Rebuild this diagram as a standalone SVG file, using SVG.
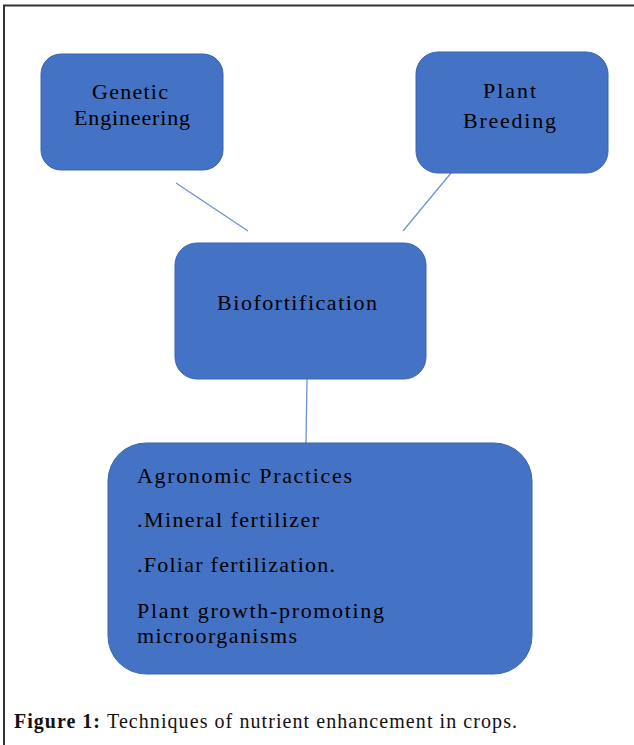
<svg xmlns="http://www.w3.org/2000/svg" width="634" height="745" viewBox="0 0 634 745">
<style>
.box{fill:#4472C4;stroke:#3A64AE;stroke-width:1}
.t{font-family:'Liberation Serif','DejaVu Serif',serif;font-size:22px;fill:#000}
.c{font-family:'Liberation Serif','DejaVu Serif',serif;font-size:20px;fill:#111}
.conn line{stroke:#6E93D8;stroke-width:1.3}
</style>
<rect width="634" height="745" fill="#fff"/>
<path d="M4 745 V5.5 H634" fill="none" stroke="#333" stroke-width="2"/>
<g class="conn">
<line x1="176" y1="183" x2="248" y2="231"/>
<line x1="451" y1="173" x2="403" y2="231"/>
<line x1="307" y1="379" x2="306" y2="443"/>
</g>
<g id="genetic">
<rect class="box" x="41" y="54" width="182" height="116" rx="20"/>
<text class="t" x="92" y="99" textLength="76" lengthAdjust="spacing">Genetic</text>
<text class="t" x="74" y="125" textLength="116" lengthAdjust="spacing">Engineering</text>
</g>
<g id="plant">
<rect class="box" x="416" y="52" width="192" height="121" rx="22"/>
<text class="t" x="483" y="98" textLength="53" lengthAdjust="spacing">Plant</text>
<text class="t" x="463" y="128" textLength="93" lengthAdjust="spacing">Breeding</text>
</g>
<g id="bio">
<rect class="box" x="175" y="243" width="251" height="136" rx="22"/>
<text class="t" x="217" y="310" textLength="160" lengthAdjust="spacing">Biofortification</text>
</g>
<g id="agro">
<rect class="box" x="108" y="443" width="424" height="231" rx="38"/>
<text class="t" x="137" y="483" textLength="215" lengthAdjust="spacing">Agronomic Practices</text>
<text class="t" x="137" y="527" textLength="182" lengthAdjust="spacing">.Mineral fertilizer</text>
<text class="t" x="137" y="572" textLength="198" lengthAdjust="spacing">.Foliar fertilization.</text>
<text class="t" x="137" y="618" textLength="247" lengthAdjust="spacing">Plant growth-promoting</text>
<text class="t" x="137" y="643" textLength="160" lengthAdjust="spacing">microorganisms</text>
</g>
<text class="c" x="14" y="728" font-weight="bold" textLength="86" lengthAdjust="spacing">Figure 1:</text>
<text class="c" x="107" y="728" textLength="410" lengthAdjust="spacing">Techniques of nutrient enhancement in crops.</text>
</svg>
